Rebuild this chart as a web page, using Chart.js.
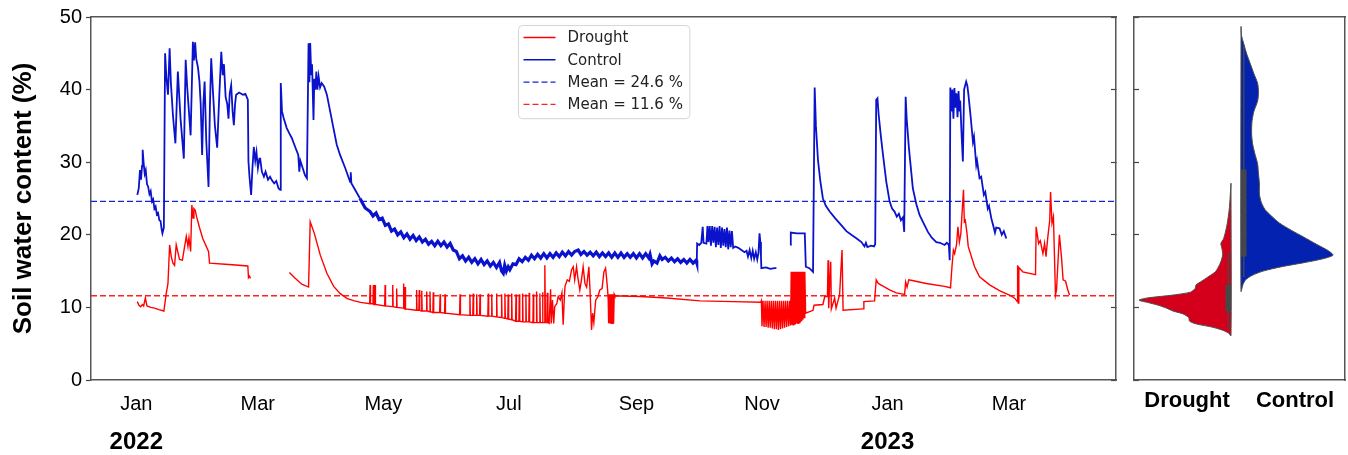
<!DOCTYPE html>
<html>
<head>
<meta charset="utf-8">
<script src="https://cdn.jsdelivr.net/npm/chart.js@4.4.1/dist/chart.umd.min.js"></script>
<style>
  html, body { margin: 0; padding: 0; background: #fff; }
  #wrap { position: relative; width: 1348px; height: 455px; overflow: hidden; }
  #c1 { position: absolute; left: 0; top: 0; }
  #c2 { position: absolute; left: 1125px; top: 0; }
</style>
</head>
<body>
<div id="wrap">
  <canvas id="c1" width="1125" height="455"></canvas>
  <canvas id="c2" width="223" height="455"></canvas>
</div>
<script>
// ---- Time axis: days counted from 1 Jan 2022 ----
const monthTickDays   = [0, 59, 120, 181, 243, 304, 365, 424];
const monthTickLabels = ['Jan', 'Mar', 'May', 'Jul', 'Sep', 'Nov', 'Jan', 'Mar'];
const yearTickDays    = [0, 365];
const yearTickLabels  = ['2022', '2023'];
const swcTicks        = [0, 10, 20, 30, 40, 50];

// ---- Seasonal means (%) ----
const meanControl = 24.6;
const meanDrought = 11.6;

// ---- Drought plots: [day, soil water content %], null = logger gap ----
const droughtSWC = [
  [0.5,10.8],[1.3,10.3],[2.1,10.1],[3.0,10.4],[3.6,10.2],[4.4,11.3],[5.2,10.2],[7.0,10.0],[8.9,9.9],[11.0,9.7],[13.4,9.5],
  [14.6,12.0],[15.4,13.3],[16.2,18.6],[17.0,17.0],[17.8,16.1],[18.6,15.8],[19.4,18.6],[21.0,16.6],[22.4,16.5],[24.3,19.8],[25.1,18.4],[25.6,19.6],[26.4,17.7],
  [27.0,24.1],[27.6,22.3],[28.0,23.6],[28.6,23.4],[29.3,22.5],[30.7,21.0],[32.3,19.5],[35.1,17.7],[35.6,16.1],[45.0,15.9],[54.2,15.7],[54.5,14.1],[55.0,14.3],[55.5,14.0],
  [65.0,null],
  [74.4,14.8],[77.2,14.0],[80.4,13.2],[83.7,12.8],[84.5,21.8],[86.5,20.2],[89.4,17.2],[92.6,14.7],[95.9,12.9],[99.1,11.9],[102.5,11.2],[106.0,10.9],[109.0,10.7],
  [113.4,10.5],[113.6,13.1],[113.8,10.5],[115.0,10.5],[115.2,13.1],[115.4,10.4],[115.8,10.4],[116.0,13.1],[116.2,10.4],
  [120.7,10.2],[120.9,13.1],[121.1,10.2],[124.4,10.1],[124.6,13.1],[124.8,10.1],[126.3,10.0],[126.5,12.6],[126.7,10.0],
  [129.6,9.9],[129.8,13.3],[130.0,9.9],[130.4,9.8],[130.6,12.8],[130.8,9.8],[136.0,9.6],[136.2,12.4],[136.4,9.6],
  [137.3,9.6],[137.5,12.4],[137.7,9.6],[138.5,9.5],[138.7,12.3],[138.9,9.5],[140.9,9.5],[141.1,12.2],[141.3,9.5],
  [142.5,9.4],[142.7,12.2],[142.9,9.4],[144.1,9.3],[144.3,12.1],[144.5,9.3],[147.4,9.3],[147.6,11.8],[147.8,9.3],
  [149.8,9.2],[150.0,11.8],[150.2,9.2],[157.1,9.0],[157.3,11.8],[157.5,9.0],[161.9,8.9],[162.1,11.8],[162.3,8.9],
  [163.5,8.9],[163.7,11.9],[163.9,8.9],[165.2,8.9],[165.4,11.8],[165.6,8.9],[166.8,8.9],[167.0,11.8],[167.2,8.9],
  [170.8,8.8],[171.0,11.9],[171.2,8.8],[172.5,8.8],[172.7,11.8],[172.9,8.8],[174.9,8.7],[175.1,11.9],[175.3,8.7],
  [177.3,8.6],[177.5,11.8],[177.7,8.6],[178.9,8.5],[179.1,11.9],[179.3,8.5],[180.5,8.4],[180.7,11.8],[180.9,8.4],
  [182.2,8.3],[182.4,11.9],[182.6,8.3],[184.3,8.1],[184.5,11.8],[184.7,8.1],[185.9,8.1],[186.1,11.8],[186.3,8.1],
  [187.5,8.0],[187.7,11.9],[187.9,8.0],[189.1,8.0],[189.3,11.8],[189.5,8.0],[190.7,8.0],[190.9,12.0],[191.1,8.0],
  [192.7,7.9],[192.9,11.8],[193.1,7.9],[194.3,7.9],[194.5,12.2],[194.7,7.9],[195.9,7.9],[196.1,11.9],[196.3,7.9],
  [197.2,7.9],[197.4,12.1],[197.6,7.9],[198.3,7.9],[198.5,15.8],[198.8,7.9],[199.5,7.9],[199.7,12.0],[200.0,7.9],
  [200.6,7.8],[201.3,12.5],[201.6,7.8],[202.2,11.0],[202.8,7.8],[203.3,10.1],[204.3,10.5],[205.0,11.5],[206.0,11.0],
  [206.8,12.0],[207.4,7.6],[208.0,11.5],[208.3,12.9],[209.4,13.8],[210.4,13.6],[211.5,15.2],[212.3,15.6],[213.0,13.8],
  [213.9,15.6],[214.5,14.2],[215.5,12.4],[216.3,13.8],[217.1,15.6],[218.0,13.3],[218.8,12.8],[219.9,15.6],[220.5,12.0],
  [221.2,6.9],[221.7,9.2],[222.3,7.9],[223.2,11.0],[224.3,11.5],[225.2,12.4],[226.3,12.6],[227.2,14.9],[228.0,15.4],
  [228.5,14.0],[229.0,12.4],[229.3,11.0],[229.5,7.8],[229.8,11.8],[230.1,7.8],[230.4,11.8],[230.7,7.8],[231.0,11.8],
  [231.3,7.8],[231.6,11.8],[231.9,7.8],[232.2,11.8],[232.5,11.6],
  [245.0,11.5],[257.6,11.3],[274.0,10.9],[290.0,10.8],[303.4,10.7],
  [303.7,10.9],[304.0,7.4],[304.5,10.9],[305.0,7.3],[305.5,10.9],[306.0,7.3],[306.5,10.9],[307.0,7.2],[307.5,10.9],
  [308.0,7.2],[308.5,10.9],[309.0,7.1],[309.5,10.9],[310.0,7.0],[310.5,10.9],[311.0,7.0],[311.5,10.9],[312.0,6.9],
  [312.5,10.9],[313.0,7.0],[313.5,10.9],[314.0,7.1],[314.5,10.9],[315.0,7.2],[315.5,10.9],[316.0,7.3],[316.5,10.9],
  [317.0,7.4],[317.5,10.9],[317.9,7.5],
  [318.2,14.9],[318.5,7.6],[318.8,14.9],[319.1,7.6],[319.4,14.9],[319.7,7.7],[320.0,14.9],[320.3,7.7],[320.6,14.9],
  [320.9,7.8],[321.2,14.9],[321.5,7.8],[321.8,14.9],[322.1,7.9],[322.4,14.9],[322.7,8.0],[323.0,14.9],[323.3,8.1],
  [323.6,14.9],[323.9,8.3],[324.2,14.9],[324.5,8.6],[324.8,14.9],[325.2,9.2],[328.8,9.6],[329.3,10.3],[333.6,10.4],
  [334.5,11.5],[335.8,11.5],[336.1,16.5],[336.4,9.9],[337.4,16.3],[337.7,9.8],[339.3,11.3],[340.0,9.9],[341.0,11.0],
  [341.7,11.7],[342.3,14.9],[342.9,17.9],[343.4,9.6],[353.1,9.8],[353.5,10.8],[358.7,10.9],[359.5,13.8],[360.5,13.3],
  [363.0,12.9],[366.0,12.4],[369.3,12.0],[373.3,11.8],[373.8,13.5],[374.5,12.8],[375.3,13.8],[377.0,13.7],[383.8,13.3],
  [392.7,12.9],[395.6,12.7],[396.3,15.6],[397.0,17.9],[397.6,17.4],[398.5,18.6],[399.2,21.1],[399.9,19.0],[400.6,20.1],
  [401.9,26.2],[402.3,21.8],[402.8,22.0],[403.6,20.2],[404.2,18.4],[407.3,15.6],[409.7,14.2],[414.6,13.1],[419.4,12.3],
  [425.0,11.6],[427.0,11.2],[428.0,10.8],[428.2,15.8],[428.5,10.6],[428.8,15.5],[430.7,14.9],[436.9,14.5],[437.2,21.1],
  [438.4,18.8],[439.2,19.2],[440.5,17.4],[441.3,18.8],[442.0,17.0],[442.8,19.5],[443.8,22.0],[444.2,25.9],[444.9,21.6],
  [445.6,22.5],[446.6,11.7],[447.1,12.4],[448.5,20.0],[449.5,17.0],[450.3,13.8],[451.5,13.6],[452.6,12.4],[453.4,11.7]
];

// ---- Control plots: [day, soil water content %], null = logger gap ----
const controlSWC = [
  [0.5,25.5],[1.2,26.4],[1.8,28.9],[2.3,27.6],[2.8,29.5],[3.1,31.7],[3.6,29.8],[4.1,28.4],[4.6,28.9],[5.2,27.0],
  [5.8,26.6],[6.4,25.6],[7.0,26.0],[7.6,24.6],[8.2,24.9],[8.8,23.6],[9.4,23.9],[10.0,22.8],[10.6,23.0],[11.2,22.0],
  [11.8,21.9],[12.3,20.8],[12.7,20.2],[13.4,21.0],[14.0,45.0],[14.6,41.8],[15.4,39.3],[16.2,45.7],[16.8,41.0],[17.8,36.5],
  [19.0,32.6],[20.2,42.5],[21.5,36.0],[23.1,30.5],[24.0,44.1],[24.7,40.5],[26.4,33.7],[27.5,46.6],[28.0,44.0],[28.6,46.5],
  [29.1,44.3],[30.0,43.0],[30.7,41.1],[31.3,38.0],[32.0,31.0],[32.6,38.0],[33.2,41.1],[34.0,33.0],[35.1,26.6],[35.8,38.0],
  [36.4,44.3],[37.2,40.0],[38.2,35.0],[39.3,32.0],[40.3,39.0],[41.3,45.2],[42.0,42.0],[42.6,43.5],[43.4,39.0],[44.2,38.0],
  [44.8,36.0],[45.4,39.5],[46.1,40.6],[46.8,37.0],[47.4,35.1],[48.0,38.0],[48.5,39.3],[50.0,39.6],[51.8,39.3],[53.0,39.4],
  [54.2,38.6],[54.5,30.1],[55.0,28.0],[55.8,25.5],[56.4,29.0],[57.1,32.1],[57.8,30.2],[58.4,31.4],[59.1,29.2],[59.8,30.5],
  [60.2,30.5],[61.0,28.7],[62.0,28.0],[62.8,28.7],[64.0,27.6],[65.0,28.0],[65.9,27.5],[67.0,27.1],[68.0,27.4],[69.1,26.4],
  [69.9,26.2],[70.2,40.9],[70.8,37.0],[71.6,36.1],[73.1,34.7],[74.3,34.0],[75.6,33.3],[77.2,32.1],[78.7,31.0],[79.2,28.7],
  [79.7,30.2],[81.2,28.9],[82.0,28.2],[82.9,27.8],[83.7,46.4],[84.1,41.0],[84.5,46.4],[85.0,42.0],[85.4,43.5],[86.1,35.8],
  [86.5,41.5],[87.0,40.0],[87.5,42.5],[88.0,40.0],[88.6,41.8],[89.3,40.3],[90.1,40.9],[91.3,40.4],[92.6,39.3],[94.2,37.0],
  [95.8,34.7],[97.4,32.4],[99.0,31.0],[101.5,29.2],[103.9,27.3],[104.2,28.6],[104.5,27.1],[106.3,26.2],[108.7,25.0],[111.2,23.7],
  [113.6,23.2],[115.0,22.6],[116.5,23.0],[118.0,22.1],[119.5,22.3],[121.0,21.3],[122.5,21.5],[124.0,20.5],[125.5,20.8],[127.0,20.0],
  [128.5,20.4],[130.0,19.6],[131.5,20.1],[133.0,19.4],[134.5,19.9],[136.0,19.2],[137.5,19.7],[139.0,19.0],[140.5,19.4],[142.0,18.7],
  [143.5,19.1],[145.0,18.5],[146.5,19.1],[148.0,18.5],[149.5,19.0],[151.0,18.3],[152.5,18.8],[154.0,17.9],[155.5,17.7],[157.0,16.7],
  [158.5,17.1],[160.0,16.4],[161.5,16.9],[163.0,16.2],[164.5,16.7],[166.0,16.0],[167.5,16.6],[169.0,15.9],[170.5,16.4],[172.0,15.7],
  [173.5,16.2],[175.0,15.5],[176.5,16.2],[177.5,15.0],[178.3,14.7],[179.0,15.8],[179.8,15.0],[180.7,15.6],[181.5,15.2],[183.0,16.0],
  [184.5,15.9],[186.0,16.7],[187.5,16.3],[189.0,16.9],[190.5,16.5],[192.0,17.2],[193.5,16.7],[195.0,17.3],[196.5,16.8],[198.0,17.4],
  [199.5,16.8],[201.0,17.4],[202.5,16.9],[204.0,17.5],[205.5,17.0],[207.0,17.6],[208.5,17.1],[210.0,17.7],[211.5,17.2],[213.0,17.7],
  [214.7,17.9],[216.0,17.3],[217.5,17.7],[219.0,17.2],[220.5,17.6],[222.0,17.1],[223.5,17.6],[225.0,17.0],[226.5,17.5],[228.0,17.0],
  [229.5,17.5],[231.0,16.9],[232.5,17.5],[234.0,16.9],[235.5,17.5],[237.0,16.9],[238.5,17.4],[240.0,16.9],[241.5,17.4],[243.0,16.8],
  [244.5,17.4],[246.0,16.8],[247.5,17.4],[249.0,16.8],[249.6,17.3],[250.6,16.0],[251.5,16.4],[253.0,16.1],[254.4,17.1],[255.5,16.6],
  [257.0,16.9],[258.5,16.4],[260.0,16.8],[261.5,16.3],[263.0,16.7],[264.5,16.2],[266.0,16.6],[267.5,16.1],[269.0,16.6],[270.5,16.1],
  [272.0,16.5],[272.3,16.2],[272.5,18.8],[273.5,18.6],[274.5,18.9],[275.2,21.1],[275.6,18.9],[277.0,18.8],[277.5,21.2],[278.0,19.0],
  [278.6,21.2],[279.2,18.5],[279.8,21.2],[280.4,18.9],[281.0,21.1],[281.6,18.3],[282.2,21.0],[282.8,18.6],[283.4,21.2],[284.0,18.2],
  [284.6,21.0],[285.2,18.5],[285.8,20.8],[286.4,18.3],[287.0,21.0],[287.6,18.0],[288.2,20.6],[288.8,18.3],[289.4,20.5],[290.0,18.2],
  [291.0,18.4],[292.5,18.2],[294.0,17.9],[295.5,17.6],[296.5,17.8],[297.2,17.0],[298.0,17.9],[298.8,16.8],[299.5,17.8],[300.2,16.7],
  [301.0,17.6],[301.7,16.6],[302.3,17.5],[302.8,20.2],[303.2,19.0],[303.5,17.0],[303.7,15.4],[306.0,15.5],[308.0,15.3],[310.2,15.4],
  [311.0,15.4],[314.0,null],
  [317.8,18.6],[318.0,20.3],[321.0,20.2],[324.8,20.2],[325.3,15.6],[327.0,15.4],[328.8,14.9],[329.6,40.3],[330.2,35.0],[331.2,30.3],
  [332.3,27.5],[333.6,25.0],[335.0,24.0],[336.9,23.2],[339.5,22.3],[342.6,21.3],[345.0,20.5],[347.4,20.0],[350.0,19.5],[352.3,19.0],
  [353.8,18.4],[354.5,18.9],[355.2,18.3],[357.0,18.5],[358.4,18.4],[359.0,18.7],[359.5,38.6],[360.1,38.8],[360.7,36.5],[361.8,33.5],
  [362.8,31.0],[364.4,27.3],[366.0,24.6],[367.2,23.6],[368.4,23.2],[369.5,22.5],[370.5,22.9],[371.5,22.0],[372.5,22.4],[373.1,20.4],
  [373.8,39.0],[374.3,36.0],[375.4,31.9],[377.3,26.4],[379.0,24.2],[380.6,22.7],[382.5,21.6],[384.6,20.4],[386.5,19.6],[388.7,19.0],
  [390.5,18.9],[392.7,18.6],[393.8,18.9],[394.8,18.6],[395.2,16.5],[395.5,40.3],[396.0,37.0],[396.5,40.0],[397.0,36.0],[397.5,40.2],
  [398.0,37.5],[398.5,39.5],[399.0,36.2],[399.5,39.8],[400.0,37.0],[400.3,38.5],[401.0,33.7],[401.6,30.1],[402.2,40.0],[403.2,41.1],
  [403.8,40.5],[404.3,39.3],[405.3,36.5],[406.5,32.8],[407.0,33.5],[408.1,29.6],[408.5,30.2],[409.7,27.8],[410.5,28.0],[411.8,25.5],
  [412.5,25.9],[413.7,23.6],[414.3,24.0],[415.4,22.3],[416.5,21.1],[417.2,20.3],[417.8,21.0],[419.4,20.9],[420.5,20.0],[421.5,20.5],
  [422.7,19.5]
];

// ---- Distribution panel: density outline (relative half-width) per SWC level ----
const groups = ['Drought', 'Control'];
const droughtLevels = [27.1,25.0,23.4,21.6,20.4,19.5,18.8,18.2,17.3,16.3,15.5,14.9,14.2,13.6,13.1,12.6,12.1,11.7,11.3,11.0,10.7,10.3,9.9,9.5,9.1,8.6,8.1,7.7,7.3,6.9,6.5,6.1];
const droughtDensity = [0,0.01,0.02,0.04,0.06,0.08,0.11,0.10,0.09,0.11,0.14,0.17,0.25,0.32,0.38,0.39,0.44,0.63,0.91,1.00,0.91,0.79,0.70,0.63,0.52,0.46,0.45,0.37,0.21,0.10,0.03,0];
const controlLevels = [48.7,47.5,46.3,45.0,43.6,42.2,40.9,39.6,38.4,37.0,35.7,34.0,32.6,31.2,29.8,28.4,27.0,25.6,24.5,23.5,22.6,21.6,20.6,19.7,18.7,17.8,17.2,16.7,16.2,15.6,15.0,14.4,13.8,13.1,12.2];
const controlDensity = [0,0.005,0.03,0.06,0.10,0.14,0.18,0.19,0.18,0.14,0.12,0.115,0.125,0.15,0.18,0.19,0.20,0.20,0.22,0.26,0.33,0.42,0.55,0.68,0.82,0.95,1.00,0.89,0.70,0.44,0.24,0.12,0.05,0.02,0];
// box summary: [lower whisker, Q1, median, Q3, upper whisker]
const droughtBox = [7.1, 9.4, 11.0, 13.1, 17.6];
const controlBox = [14.2, 17.0, 20.1, 29.0, 46.1];

// ---------------------------------------------------------------------------
const FONT = '"Liberation Sans", Arial, Helvetica, sans-serif';
const AXIS_GREY = '#555555';
const dayMin = -22, dayMax = 476;
// stretch of the control record with strong diurnal ripple (drawn as a thicker trace)
const rippleFrom = 108, rippleTo = 272.3;
Chart.defaults.font.family = FONT;
Chart.defaults.color = '#000';

const toPoints = pairs => pairs.map(p => ({x: p[0], y: p[1]}));
const fixedTicks = values => scale => { scale.ticks = values.map(v => ({value: v})); };

// legend box placed inside the plotting area, centred horizontally
const insideLegend = {
  id: 'insideLegend',
  afterDatasetsDraw(chart) {
    const {ctx, chartArea} = chart;
    const items = chart.data.datasets;
    const rowH = 22.3, lineLen = 32, gap = 12, padL = 5, padR = 7;
    ctx.save();
    ctx.font = '15px "DejaVu Sans", sans-serif';
    const textW = Math.max(...items.map(d => ctx.measureText(d.label).width));
    const w = padL + lineLen + gap + textW + padR;
    const h = rowH * items.length + 4;
    const x0 = Math.round((chartArea.left + chartArea.right) / 2 - w / 2) + 0.5;
    const y0 = chartArea.top + 8.5;
    const r = 4;
    ctx.beginPath();
    ctx.moveTo(x0 + r, y0);
    ctx.arcTo(x0 + w, y0, x0 + w, y0 + h, r);
    ctx.arcTo(x0 + w, y0 + h, x0, y0 + h, r);
    ctx.arcTo(x0, y0 + h, x0, y0, r);
    ctx.arcTo(x0, y0, x0 + w, y0, r);
    ctx.closePath();
    ctx.fillStyle = 'rgba(255,255,255,0.85)';
    ctx.fill();
    ctx.strokeStyle = '#d6d6d6';
    ctx.lineWidth = 1;
    ctx.stroke();
    items.forEach((d, i) => {
      const cy = y0 + 12 + i * rowH;
      ctx.beginPath();
      ctx.setLineDash(d.borderDash || []);
      ctx.strokeStyle = d.borderColor;
      ctx.lineWidth = d.legendWidth || d.borderWidth;
      ctx.moveTo(x0 + padL, cy);
      ctx.lineTo(x0 + padL + lineLen, cy);
      ctx.stroke();
      ctx.setLineDash([]);
      ctx.fillStyle = '#222';
      ctx.textBaseline = 'middle';
      ctx.textAlign = 'left';
      ctx.fillText(d.label, x0 + padL + lineLen + gap, cy + 1);
    });
    ctx.restore();
  }
};

const lineStyle = {pointRadius: 0, pointHoverRadius: 0, fill: false, tension: 0, spanGaps: false};

new Chart(document.getElementById('c1'), {
  type: 'line',
  data: {
    datasets: [
      {label: 'Drought', data: toPoints(droughtSWC), borderColor: '#ff0000', borderWidth: 1.4, ...lineStyle},
      {label: 'Control', data: toPoints(controlSWC), borderColor: '#0a12cc', borderWidth: 1.8, legendWidth: 1.4, ...lineStyle,
       segment: {borderWidth: c => (c.p0.parsed.x >= rippleFrom && c.p1.parsed.x <= rippleTo) ? 3.2 : undefined}},
      {label: `Mean = ${meanControl.toFixed(1)} %`, data: [{x: dayMin, y: meanControl}, {x: dayMax, y: meanControl}],
       borderColor: '#1526d8', borderWidth: 1.4, borderDash: [6, 3], ...lineStyle},
      {label: `Mean = ${meanDrought.toFixed(1)} %`, data: [{x: dayMin, y: meanDrought}, {x: dayMax, y: meanDrought}],
       borderColor: '#ff2020', borderWidth: 1.4, borderDash: [6, 3], ...lineStyle}
    ]
  },
  options: {
    responsive: false,
    animation: false,
    events: [],
    layout: {padding: 0},
    plugins: {legend: {display: false}, tooltip: {enabled: false}},
    scales: {
      x: {
        type: 'linear', position: 'bottom', weight: 0, min: dayMin, max: dayMax,
        afterBuildTicks: fixedTicks(monthTickDays),
        ticks: {callback: (v, i) => monthTickLabels[i], font: {size: 20}, color: '#000', padding: 12, maxRotation: 0, autoSkip: false},
        grid: {display: true, drawOnChartArea: false, drawTicks: false},
        border: {display: true, color: AXIS_GREY, width: 1.5},
        afterFit: s => { s.height = 40; }
      },
      xYear: {
        type: 'linear', position: 'bottom', weight: 1, min: dayMin, max: dayMax,
        afterBuildTicks: fixedTicks(yearTickDays),
        ticks: {callback: (v, i) => yearTickLabels[i], font: {size: 24, weight: 'bold'}, color: '#000', padding: 0, maxRotation: 0, autoSkip: false},
        grid: {display: false},
        border: {display: false},
        afterFit: s => { s.height = 35; }
      },
      xTop: {
        type: 'linear', position: 'top', min: dayMin, max: dayMax,
        ticks: {display: false},
        grid: {display: false},
        border: {display: true, color: AXIS_GREY, width: 1.5},
        afterFit: s => { s.height = 17; }
      },
      y: {
        type: 'linear', position: 'left', min: 0, max: 50,
        afterBuildTicks: fixedTicks(swcTicks),
        ticks: {font: {size: 20}, color: '#000', padding: 4},
        grid: {drawOnChartArea: false, drawTicks: true, tickLength: 5, color: '#444', tickWidth: 1.2},
        border: {display: true, color: AXIS_GREY, width: 1.5},
        title: {display: true, text: 'Soil water content (%)', font: {size: 26, weight: 'bold'}, color: '#000', padding: {top: 8, bottom: 0}},
        afterFit: s => { s.width = 91; }
      },
      yRight: {
        type: 'linear', position: 'right', min: 0, max: 50,
        afterBuildTicks: fixedTicks(swcTicks),
        ticks: {display: false},
        grid: {drawOnChartArea: false, drawTicks: true, tickLength: -5, color: '#444', tickWidth: 1.2},
        border: {display: true, color: AXIS_GREY, width: 1.5},
        afterFit: s => { s.width = 9; }
      }
    }
  },
  plugins: [insideLegend]
});

// ---- split violin panel ----
const droughtCenter = 0, controlCenter = 0.109;
const violinMin = -1.054, violinMax = 1.239;
const groupLabelX = [-0.478, 0.696];
const boxOffset = 0.03, medianHalf = 0.025;

function halfViolin(levels, density, center, side) {
  const pts = levels.map((v, i) => ({x: center + side * density[i], y: v}));
  pts.push({x: center, y: levels[0]});
  return pts;
}
function boxSets(box, x) {
  const grey = '#474747';
  return [
    {data: [{x, y: box[0]}, {x, y: box[4]}], borderColor: grey, borderWidth: 1.5, ...lineStyle},
    {data: [{x, y: box[1]}, {x, y: box[3]}], borderColor: grey, borderWidth: 5.5, borderCapStyle: 'butt', ...lineStyle},
    {data: [{x: x - medianHalf, y: box[2]}, {x: x + medianHalf, y: box[2]}], borderColor: '#ffffff', borderWidth: 1.2, ...lineStyle}
  ];
}

new Chart(document.getElementById('c2'), {
  type: 'line',
  data: {
    datasets: [
      ...boxSets(droughtBox, droughtCenter - boxOffset),
      ...boxSets(controlBox, controlCenter + boxOffset),
      {data: halfViolin(droughtLevels, droughtDensity, droughtCenter, -1), borderColor: '#4d4d4d', borderWidth: 1,
       backgroundColor: '#d4001b', pointRadius: 0, fill: 'shape', tension: 0.25},
      {data: halfViolin(controlLevels, controlDensity, controlCenter, 1), borderColor: '#4d4d4d', borderWidth: 1,
       backgroundColor: '#0322b0', pointRadius: 0, fill: 'shape', tension: 0.25}
    ]
  },
  options: {
    responsive: false,
    animation: false,
    events: [],
    layout: {padding: 0},
    plugins: {legend: {display: false}, tooltip: {enabled: false}},
    scales: {
      x: {
        type: 'linear', position: 'bottom', min: violinMin, max: violinMax,
        afterBuildTicks: fixedTicks(groupLabelX),
        ticks: {callback: (v, i) => groups[i], font: {size: 22, weight: 'bold'}, color: '#000', padding: 8, maxRotation: 0, autoSkip: false},
        grid: {display: true, drawOnChartArea: false, drawTicks: false},
        border: {display: true, color: AXIS_GREY, width: 1.5},
        afterFit: s => { s.height = 75; }
      },
      xTop: {
        type: 'linear', position: 'top', min: violinMin, max: violinMax,
        ticks: {display: false},
        grid: {display: false},
        border: {display: true, color: AXIS_GREY, width: 1.5},
        afterFit: s => { s.height = 17; }
      },
      y: {
        type: 'linear', position: 'left', min: 0, max: 50,
        afterBuildTicks: fixedTicks(swcTicks),
        ticks: {display: false},
        grid: {drawOnChartArea: false, drawTicks: true, tickLength: -5, color: '#444', tickWidth: 1.2},
        border: {display: true, color: AXIS_GREY, width: 1.5},
        afterFit: s => { s.width = 9; }
      },
      yRight: {
        type: 'linear', position: 'right', min: 0, max: 50,
        ticks: {display: false},
        grid: {display: false},
        border: {display: true, color: AXIS_GREY, width: 1.5},
        afterFit: s => { s.width = 3; }
      }
    }
  }
});
</script>
</body>
</html>
